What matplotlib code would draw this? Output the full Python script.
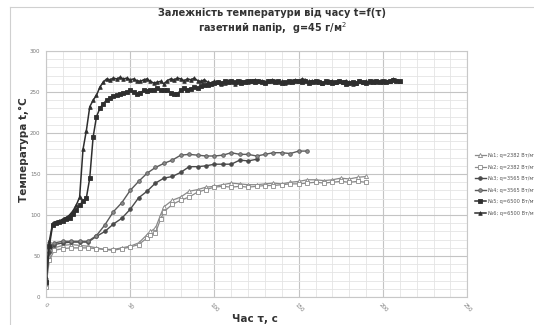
import matplotlib
matplotlib.use("Agg")
import matplotlib.pyplot as plt
from matplotlib.ticker import MultipleLocator
from matplotlib.lines import Line2D

# ---------------- data ----------------
title = "Залежність температури від часу t=f(τ)\nгазетний папір,  g=45 г/м$^2$"
xlabel = "Час τ, с"
ylabel = "Температура t,°C"
labels = ["№1; q=2382 Вт/м²", "№2; q=2382 Вт/м²", "№3; q=3565 Вт/м²",
          "№4; q=3565 Вт/м²", "№5; q=6500 Вт/м²", "№6; q=6500 Вт/м²"]

t1 = [0, 2, 5, 10, 15, 20, 25, 30, 35, 40, 45, 50, 55, 60, 62, 65, 68, 70, 75, 80,
      85, 90, 95, 100, 105, 110, 115, 120, 125, 130, 135, 140, 145, 150, 155, 160,
      165, 170, 175, 180, 185, 190]
T1 = [14, 50, 60, 63, 64, 63, 62, 60, 58, 58, 60, 62, 66, 76, 80, 84, 100, 110, 118, 122,
      129, 131, 134, 135, 137, 139, 138, 137, 137, 138, 139, 138, 140, 141, 143, 143,
      142, 143, 145, 144, 146, 147]
t2 = t1
T2 = [12, 45, 57, 59, 60, 60, 60, 59, 58, 57, 59, 61, 64, 72, 76, 78, 95, 104, 113, 118,
      122, 128, 131, 134, 135, 134, 135, 134, 135, 136, 136, 137, 138, 138, 139, 140,
      139, 140, 141, 140, 141, 140]
t3 = [0, 2, 5, 10, 15, 20, 25, 30, 35, 40, 45, 50, 55, 60, 65, 70, 75, 80, 85, 90,
      95, 100, 105, 110, 115, 120, 125]
T3 = [20, 55, 64, 66, 67, 67, 67, 74, 80, 89, 96, 107, 121, 129, 139, 145, 147, 152, 159, 159,
      160, 162, 162, 162, 167, 166, 168]
t4 = [0, 2, 5, 10, 15, 20, 25, 30, 35, 40, 45, 50, 55, 60, 65, 70, 75, 80, 85, 90,
      95, 100, 105, 110, 115, 120, 125, 130, 135, 140, 145, 150, 155]
T4 = [16, 58, 66, 68, 68, 68, 68, 75, 88, 104, 115, 130, 141, 151, 158, 163, 167, 173, 174, 173,
      172, 172, 173, 176, 174, 174, 172, 174, 176, 176, 175, 178, 178]
t56 = list(range(0, 212, 2))
T5 = [18, 62, 88, 90, 91, 93, 95, 97, 101, 106, 112, 117, 121, 145, 195, 220, 230, 236, 240, 243,
      245, 246, 248, 249, 250, 252, 250, 248, 249, 252, 251, 252, 253, 255, 253, 252, 253, 249, 247, 248,
      252, 255, 253, 254, 256, 255, 257, 259, 258, 260, 261, 262, 261, 263, 262, 264, 262, 263, 261, 262,
      264, 263, 262, 264, 262, 261, 263, 264, 262, 263, 261, 262, 263, 262, 264, 263, 262, 264, 261, 262,
      263, 262, 261, 263, 262, 261, 262, 263, 262, 260, 261, 262, 261, 263, 262, 261, 263, 262, 264, 262,
      263, 262, 264, 265, 264, 263]
T6 = [25, 68, 90, 92, 93, 95, 97, 100, 105, 112, 122, 180, 203, 232, 240, 246, 256, 262, 266, 265,
      267, 266, 268, 266, 267, 265, 266, 264, 263, 265, 266, 263, 261, 262, 263, 260, 264, 266, 265, 267,
      266, 264, 266, 265, 267, 264, 263, 265, 262, 261, 263, 262, 260, 261, 263, 262, 260, 262, 264, 263,
      262, 264, 265, 263, 264, 262, 263, 265, 264, 262, 263, 261, 262, 264, 265, 264, 266, 265, 263, 264,
      262, 263, 261, 262, 263, 264, 262, 263, 262, 264, 262, 260, 261, 263, 262, 263, 262, 264, 262, 263,
      262, 264, 263, 266, 265, 263]

xticks = [0, 50, 100, 150, 200, 250]
yticks = [0, 50, 100, 150, 200, 250, 300]

# ---------------- figure ----------------
fig = plt.figure(figsize=(5.34, 3.25), dpi=100)
fig.patch.set_facecolor("white")
ax = fig.add_axes([0.086, 0.086, 0.789, 0.757])

series = [
    (t1, T1, "#8a8a8a", "^", "white", 3.0, 0.9),
    (t2, T2, "#8a8a8a", "s", "white", 2.6, 0.9),
    (t3, T3, "#4a4a4a", "o", "#4a4a4a", 2.6, 1.0),
    (t4, T4, "#5a5a5a", "o", "#8a8a8a", 2.6, 1.0),
    (t56, T5, "#2e2e2e", "s", "#2e2e2e", 2.4, 1.1),
    (t56, T6, "#2e2e2e", "^", "#2e2e2e", 2.6, 1.1),
]
handles = []
for (tx, ty, c, m, fc, ms, lw), lab in zip(series, labels):
    h, = ax.plot(tx, ty, color=c, marker=m, markerfacecolor=fc, markeredgecolor=c,
                 markersize=ms, linewidth=lw, markeredgewidth=0.6, label=lab)
    handles.append(h)

ax.set_xlim(0, 250)
ax.set_ylim(0, 300)
ax.set_xticks(xticks)
ax.set_yticks(yticks)
ax.xaxis.set_minor_locator(MultipleLocator(10))
ax.yaxis.set_minor_locator(MultipleLocator(10))
ax.grid(which="major", color="#c4c4c4", linewidth=0.8)
ax.grid(which="minor", color="#e4e4e4", linewidth=0.6)
ax.set_axisbelow(True)
for s in ax.spines.values():
    s.set_color("#c8c8c8")
    s.set_linewidth(0.8)
ax.tick_params(which="both", length=0, labelsize=4, labelcolor="#777777", pad=4)
for lbl in ax.get_xticklabels():
    lbl.set_rotation(-45)
    lbl.set_ha("center")

fig.text(0.478, 0.017, xlabel, ha="center", va="center", fontsize=7.5,
         fontweight="bold", color="#333333")
fig.text(0.045, 0.54, ylabel, ha="center", va="center", rotation=90, fontsize=7.5,
         fontweight="bold", color="#333333")
fig.text(0.51, 0.932, title, ha="center", va="center", fontsize=7, fontweight="bold",
         color="#333333", linespacing=1.15)

leg = fig.legend(handles=handles, loc="upper left", bbox_to_anchor=(0.885, 0.535),
                 frameon=False, fontsize=3.6, handlelength=2.2, labelspacing=1.3,
                 borderaxespad=0, handletextpad=0.4)
for txt in leg.get_texts():
    txt.set_color("#555555")

# outer chart frame
fig.add_artist(Line2D([0.019, 1.0], [0.978, 0.978], color="#d0d0d0", linewidth=0.8,
                      transform=fig.transFigure))
fig.add_artist(Line2D([0.019, 0.019], [0.0, 0.978], color="#d0d0d0", linewidth=0.8,
                      transform=fig.transFigure))

fig.savefig("out.png", dpi=100)
